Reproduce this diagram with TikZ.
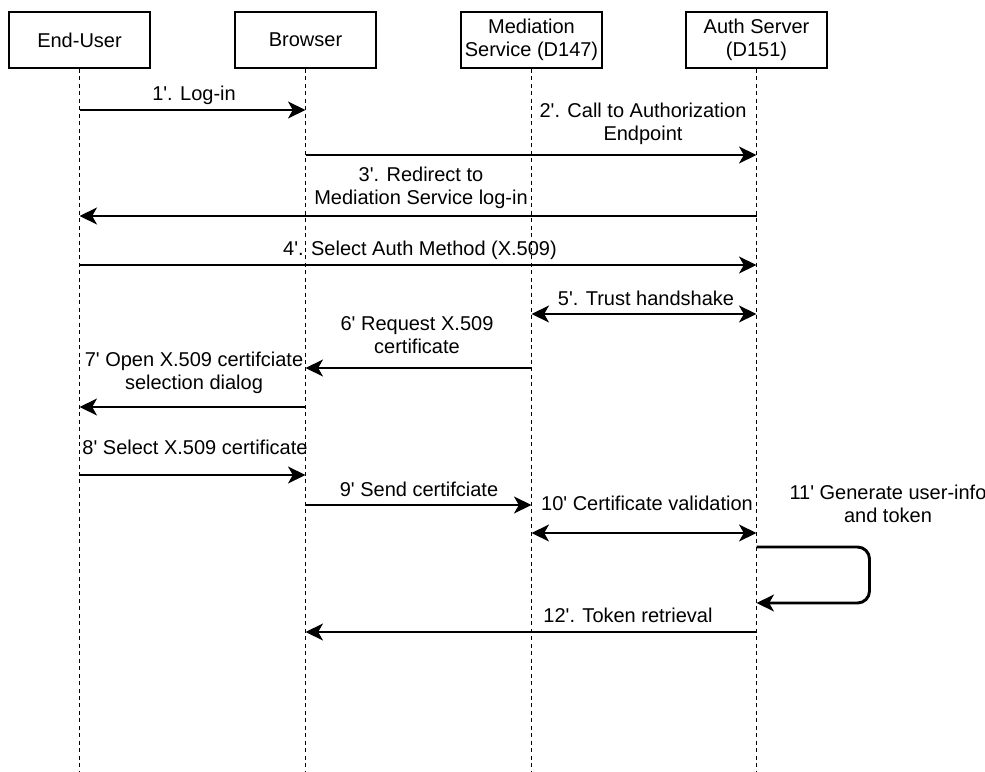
\documentclass[tikz,border=0pt]{standalone}
\usepackage{fontspec}
% a family without TeX ligatures, so ' stays a straight apostrophe
\newfontfamily\diagfont{Liberation Sans}
\usetikzlibrary{arrows.meta}
\begin{document}
\begin{tikzpicture}[x=0.75pt,y=-0.75pt,
  font=\diagfont\fontsize{15}{17.4}\selectfont,
  actor/.style={draw,line width=1.2pt,minimum width=106pt,minimum height=42pt,align=center,inner sep=0pt},
  life/.style={line width=1.05pt,dash pattern=on 3pt off 2.6pt},
  msg/.style={line width=2.2pt,-{Stealth[length=13pt,width=12.5pt,inset=3.5pt]}},
  bmsg/.style={line width=2.2pt,{Stealth[length=13pt,width=12.5pt,inset=3.5pt]}-{Stealth[length=13pt,width=12.5pt,inset=3.5pt]}},
  lbl/.style={align=center,inner sep=0pt}]
\useasboundingbox (0,0) rectangle (985,771);

% participants
\node[actor] (eu) at (79.5,40) {End-User};
\node[actor] (br) at (305.5,40) {Browser};
\node[actor] (ms) at (531.5,40) {Mediation\\Service (D147)};
\node[actor] (as) at (756.5,40) {Auth Server\\(D151)};

% lifelines
\foreach \p in {eu,br,ms,as}
  \draw[life] (\p.south) -- (\p.south |- 0,771);

% messages
\draw[msg] (eu.south |- 0,110) -- (br.south |- 0,110);
\node[lbl] (l1) at (194,95) {1'. Log-in};

\draw[msg] (br.south |- 0,155) -- (as.south |- 0,155);
\node[lbl] (l2) at (643,124) {2'. Call to Authorization\\Endpoint};

\draw[msg] (as.south |- 0,216) -- (eu.south |- 0,216);
\node[lbl] (l3) at (421,188) {3'. Redirect to\\Mediation Service log-in};

\draw[msg] (eu.south |- 0,265) -- (as.south |- 0,265);
\node[lbl] (l4) at (420,250) {4'. Select Auth Method (X.509)};

\draw[bmsg] (ms.south |- 0,314) -- (as.south |- 0,314);
\node[lbl] (l5) at (646,298) {5'. Trust handshake};

\draw[msg] (ms.south |- 0,368) -- (br.south |- 0,368);
\node[lbl] (l6) at (417,335) {6' Request X.509\\certificate};

\draw[msg] (br.south |- 0,407) -- (eu.south |- 0,407);
\node[lbl] (l7) at (194,373) {7' Open X.509 certifciate\\selection dialog};

\draw[msg] (eu.south |- 0,475) -- (br.south |- 0,475);
\node[lbl] (l8) at (195,447) {8' Select X.509 certificate};

\draw[msg] (br.south |- 0,505) -- (ms.south |- 0,505);
\node[lbl] (l9) at (419,489) {9' Send certifciate};

\draw[bmsg] (ms.south |- 0,533) -- (as.south |- 0,533);
\node[lbl] (l10) at (647,503) {10' Certificate validation};

% self message on the auth server
\coordinate (loopA) at (as.south |- 0,547);
\coordinate (loopB) at (as.south |- 0,603);
\draw[msg,rounded corners=9pt] (loopA) -- ++(113,0) |- (loopB);
\node[lbl] (l11) at (888,504) {11' Generate user-info\\and token};

\draw[msg] (as.south |- 0,632) -- (br.south |- 0,632);
\node[lbl] (l12) at (628,615) {12'. Token retrieval};
\end{tikzpicture}
\end{document}
